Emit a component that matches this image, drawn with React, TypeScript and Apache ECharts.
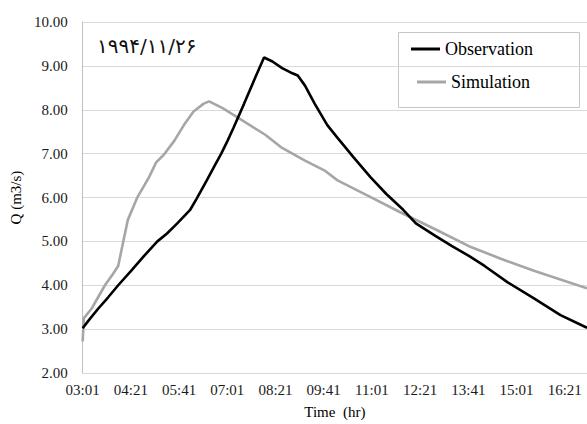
import React, { useEffect, useRef } from "react";
import * as echarts from "echarts";

// minutes after 03:01
const obsMinutes = [0, 10, 26, 42, 59, 80, 102, 124, 140, 157, 178, 189, 206, 218, 230, 240, 250, 268, 287, 301, 315, 331, 345, 357, 369, 385, 406, 423, 450, 478, 504, 532, 553, 586, 613, 641, 667, 706, 749, 793, 837];
const obsQ = [3.02, 3.2, 3.47, 3.72, 4.0, 4.32, 4.67, 5.0, 5.18, 5.41, 5.71, 5.97, 6.39, 6.7, 7.0, 7.28, 7.58, 8.14, 8.75, 9.19, 9.1, 8.95, 8.85, 8.78, 8.55, 8.14, 7.65, 7.36, 6.91, 6.46, 6.08, 5.72, 5.41, 5.12, 4.89, 4.67, 4.44, 4.06, 3.7, 3.32, 3.03];

const simMinutes = [0, 2, 15, 37, 50, 59, 67, 75, 91, 110, 122, 135, 152, 168, 184, 201, 210, 233, 259, 303, 331, 369, 401, 423, 478, 532, 586, 641, 695, 749, 837];
const simQ = [2.72, 3.25, 3.47, 4.0, 4.25, 4.44, 4.97, 5.49, 6.01, 6.46, 6.8, 6.98, 7.29, 7.65, 7.96, 8.14, 8.19, 8.03, 7.81, 7.43, 7.13, 6.84, 6.62, 6.39, 6.01, 5.63, 5.27, 4.89, 4.6, 4.33, 3.93];

const startMinuteOfDay = 181; // 03:01
const lastLabelMinute = 800; // 16:21
const title = "۱۹۹۴/۱۱/۲۶";

const fmtTime = (v: number) => {
  if (v > lastLabelMinute + 0.5) return "";
  const t = startMinuteOfDay + Math.round(v);
  const h = Math.floor(t / 60);
  const m = t % 60;
  return `${String(h).padStart(2, "0")}:${String(m).padStart(2, "0")}`;
};

export default function App() {
  const ref = useRef<HTMLDivElement>(null);
  useEffect(() => {
    if (!ref.current) return;
    const chart = echarts.init(ref.current, undefined, { renderer: "svg" });
    const serif = "'Liberation Serif', 'Times New Roman', serif";
    chart.setOption({
      animation: false,
      backgroundColor: "#ffffff",
      title: {
        text: title,
        left: 92,
        top: 31,
        textStyle: { fontFamily: "'DejaVu Sans', sans-serif", fontSize: 20, fontWeight: "normal", color: "#111" },
      },
      grid: { left: 74, top: 22, right: 0, bottom: 46, containLabel: false },
      legend: [
        {
          data: ["Observation"],
          left: 411,
          top: 40,
          padding: 0,
          orient: "vertical",
          icon: "rect",
          itemWidth: 29,
          itemHeight: 3,
          textStyle: { fontFamily: serif, fontSize: 18, color: "#000" },
        },
        {
          data: ["Simulation"],
          left: 417,
          top: 73,
          padding: 0,
          orient: "vertical",
          icon: "rect",
          itemWidth: 29,
          itemHeight: 3,
          textStyle: { fontFamily: serif, fontSize: 18, color: "#000" },
        },
      ],
      graphic: [
        {
          type: "rect",
          shape: { x: 398.5, y: 32.5, width: 181, height: 75 },
          style: { fill: "none", stroke: "#c6c6c6", lineWidth: 1 },
          silent: true,
        },
      ],
      xAxis: {
        type: "value",
        min: 0,
        max: 837,
        interval: 80,
        name: "Time  (hr)",
        nameLocation: "middle",
        nameGap: 31,
        nameTextStyle: { fontFamily: serif, fontSize: 15, color: "#000" },
        axisLine: { show: true, lineStyle: { color: "#d9d9d9", width: 1 } },
        axisTick: { show: false },
        splitLine: { show: false },
        axisLabel: {
          formatter: fmtTime,
          fontFamily: serif,
          fontSize: 15,
          color: "#1a1a1a",
          margin: 9,
          showMaxLabel: false,
        },
      },
      yAxis: {
        type: "value",
        min: 2,
        max: 10,
        interval: 1,
        name: "Q (m3/s)",
        nameLocation: "middle",
        nameGap: 51,
        nameRotate: 90,
        nameTextStyle: { fontFamily: serif, fontSize: 15, color: "#000" },
        axisLine: { show: true, lineStyle: { color: "#bfbfbf", width: 1 } },
        axisTick: { show: false },
        splitLine: { show: true, lineStyle: { color: "#d9d9d9", width: 1 } },
        axisLabel: {
          formatter: (v: number) => v.toFixed(2),
          fontFamily: serif,
          fontSize: 15,
          color: "#1a1a1a",
          margin: 15,
        },
      },
      series: [
        {
          name: "Observation",
          type: "line",
          data: obsMinutes.map((m, i) => [m, obsQ[i]]),
          showSymbol: false,
          lineStyle: { color: "#000000", width: 2.6 },
          itemStyle: { color: "#000000" },
          z: 3,
        },
        {
          name: "Simulation",
          type: "line",
          data: simMinutes.map((m, i) => [m, simQ[i]]),
          showSymbol: false,
          lineStyle: { color: "#a6a6a6", width: 2.6 },
          itemStyle: { color: "#a6a6a6" },
          z: 2,
        },
      ],
    });
    return () => chart.dispose();
  }, []);
  return (
    <div
      ref={ref}
      style={{ position: "absolute", left: 0, top: 0, width: 587, height: 424 }}
    />
  );
}
